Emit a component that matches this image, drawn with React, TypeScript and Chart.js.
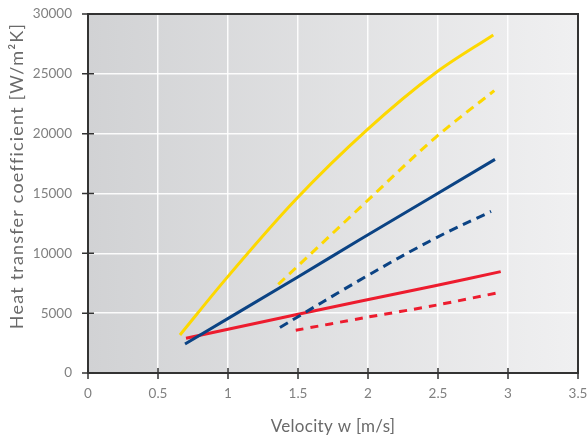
import React, { useEffect, useRef } from "react";
import { Chart, registerables } from "chart.js";

Chart.register(...registerables);

const xTicks = [0, 0.5, 1, 1.5, 2, 2.5, 3, 3.5];
const yTicks = [0, 5000, 10000, 15000, 20000, 25000, 30000];
const xTitle = "Velocity w [m/s]";
const yTitle = "Heat transfer coefficient [W/m²K]";

const yellowSolidX = [0.657, 0.991, 1.484, 1.991, 2.479, 2.895];
const yellowSolidY = [3180, 7950, 14500, 20300, 25050, 28250];
const yellowDashX = [1.359, 1.991, 2.479, 2.902];
const yellowDashY = [7400, 14350, 19650, 23600];
const blueSolidX = [0.693, 1.484, 1.943, 2.907];
const blueSolidY = [2420, 7920, 11150, 17850];
const blueDashX = [1.371, 1.984, 2.479, 2.879];
const blueDashY = [3800, 8050, 11250, 13500];
const redSolidX = [0.7, 1.484, 1.943, 2.479, 2.948];
const redSolidY = [2900, 4870, 5990, 7290, 8470];
const redDashX = [1.484, 1.979, 2.479, 2.948];
const redDashY = [3570, 4630, 5650, 6750];

const YELLOW = "#fdd800";
const BLUE = "#0b4384";
const RED = "#ed1c2e";
const FONT = "Lato, 'Open Sans', sans-serif";

const pts = (xs: number[], ys: number[]) => xs.map((x, i) => ({ x, y: ys[i] }));

const bgPlugin = {
  id: "bgPlugin",
  beforeDraw(chart: any) {
    const { ctx, chartArea: a } = chart;
    const g = ctx.createLinearGradient(a.left, 0, a.right, 0);
    g.addColorStop(0, "#d1d2d4");
    g.addColorStop(1, "#f0f0f1");
    ctx.save();
    ctx.fillStyle = g;
    ctx.fillRect(a.left, a.top, a.right - a.left, a.bottom - a.top);
    ctx.restore();
  },
  afterDatasetsDraw(chart: any) {
    const { ctx, chartArea: a, scales } = chart;
    ctx.save();
    ctx.strokeStyle = "#333333";
    ctx.lineWidth = 2;
    ctx.strokeRect(a.left, a.top, a.right - a.left, a.bottom - a.top);
    ctx.lineWidth = 1.5;
    ctx.beginPath();
    xTicks.forEach((v) => {
      const px = scales.x.getPixelForValue(v);
      ctx.moveTo(px, a.bottom - 5);
      ctx.lineTo(px, a.bottom + 6);
    });
    yTicks.forEach((v) => {
      const py = scales.y.getPixelForValue(v);
      ctx.moveTo(a.left - 6, py);
      ctx.lineTo(a.left + 6, py);
    });
    ctx.stroke();
    ctx.restore();
  },
  afterDraw(chart: any) {
    const { ctx, chartArea: a } = chart;
    ctx.save();
    ctx.fillStyle = "#6a6a6a";
    ctx.textAlign = "center";
    ctx.textBaseline = "middle";
    ctx.font = `17px ${FONT}`;
    (ctx as any).letterSpacing = "0.3px";
    ctx.fillText(xTitle, (a.left + a.right) / 2, 427);
    ctx.translate(17, 176);
    ctx.rotate(-Math.PI / 2);
    ctx.font = `18px ${FONT}`;
    (ctx as any).letterSpacing = "1.2px";
    ctx.fillText(yTitle, 0, 0);
    ctx.restore();
  },
};

export default function App() {
  const ref = useRef<HTMLCanvasElement>(null);
  useEffect(() => {
    if (!ref.current) return;
    const mk = (label: string, xs: number[], ys: number[], color: string, dash: number[], tension: number, mono = false) => ({
      label,
      data: pts(xs, ys),
      borderColor: color,
      backgroundColor: color,
      borderWidth: 3,
      borderDash: dash,
      pointRadius: 0,
      fill: false,
      tension,
      cubicInterpolationMode: mono ? ("monotone" as const) : ("default" as const),
    });
    const chart = new Chart(ref.current, {
      type: "line",
      data: {
        datasets: [
          mk("yellow solid", yellowSolidX, yellowSolidY, YELLOW, [], 0.4, true),
          mk("yellow dashed", yellowDashX, yellowDashY, YELLOW, [9, 6], 0.4, true),
          mk("blue solid", blueSolidX, blueSolidY, BLUE, [], 0.3),
          mk("blue dashed", blueDashX, blueDashY, BLUE, [9, 6], 0.4),
          mk("red solid", redSolidX, redSolidY, RED, [], 0.3),
          mk("red dashed", redDashX, redDashY, RED, [8, 7], 0.3),
        ],
      },
      options: {
        responsive: false,
        animation: false,
        layout: { padding: { top: 14, right: 10, left: 0, bottom: 0 } },
        plugins: { legend: { display: false }, tooltip: { enabled: false } },
        scales: {
          x: {
            type: "linear",
            min: 0,
            max: 3.5,
            afterFit: (s: any) => {
              s.height = 68;
              s.paddingLeft = 0;
              s.paddingRight = 0;
            },
            afterBuildTicks: (s: any) => {
              s.ticks = xTicks.map((v) => ({ value: v }));
            },
            grid: { color: "rgba(255,255,255,0.9)", lineWidth: 1.5, drawTicks: false },
            border: { display: false },
            ticks: {
              padding: 13,
              color: "#808080",
              font: { family: FONT, size: 13.5 },
              callback: (v: any) => String(v),
              maxRotation: 0,
            },
          },
          y: {
            type: "linear",
            min: 0,
            max: 30000,
            afterFit: (s: any) => {
              s.width = 88;
              s.paddingTop = 0;
              s.paddingBottom = 0;
            },
            afterBuildTicks: (s: any) => {
              s.ticks = yTicks.map((v) => ({ value: v }));
            },
            grid: { color: "rgba(255,255,255,0.9)", lineWidth: 1.5, drawTicks: false },
            border: { display: false },
            ticks: {
              padding: 16,
              color: "#808080",
              font: { family: FONT, size: 13.5 },
              callback: (v: any) => String(v),
            },
          },
        },
      },
      plugins: [bgPlugin],
    });
    return () => chart.destroy();
  }, []);
  return (
    <div style={{ position: "fixed", left: 0, top: 0, width: 588, height: 441, background: "#ffffff" }}>
      <canvas ref={ref} width={588} height={441} style={{ display: "block" }} />
    </div>
  );
}
